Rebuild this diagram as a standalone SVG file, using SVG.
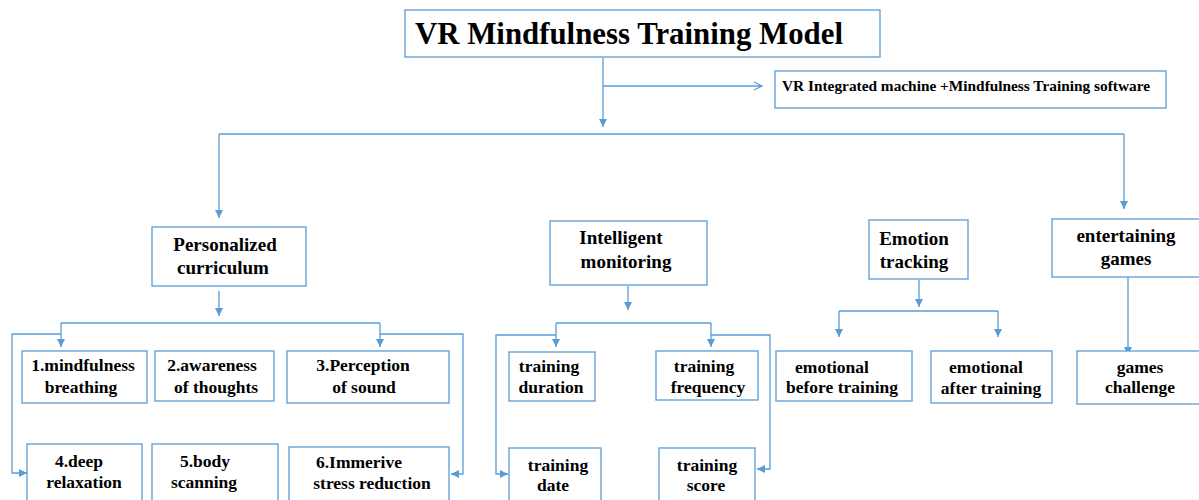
<svg xmlns="http://www.w3.org/2000/svg" width="1199" height="500" viewBox="0 0 1199 500">
<defs>
<style>
.box{fill:#fff;stroke:#5b9bd5;stroke-width:1.3}
.ln{fill:none;stroke:#5b9bd5;stroke-width:1.3}
.arr{marker-end:url(#tri)}
text{font-family:"Liberation Serif","Times New Roman",serif;font-weight:bold;fill:#000}
.h{font-size:19px;text-anchor:middle}
.s{font-size:17.5px;text-anchor:middle}
</style>
<marker id="tri" markerUnits="userSpaceOnUse" markerWidth="10" markerHeight="10" refX="8" refY="4" orient="auto">
<path d="M0,0 L8,4 L0,8 Z" fill="#5b9bd5"/>
</marker>
<marker id="open" markerUnits="userSpaceOnUse" markerWidth="12" markerHeight="12" refX="9" refY="5" orient="auto">
<path d="M1,1 L9,5 L1,9" fill="none" stroke="#5b9bd5" stroke-width="1.2"/>
</marker>
</defs>
<rect width="1199" height="500" fill="#fff"/>

<g id="connectors">
<path class="ln arr" d="M603,58 V127"/>
<path class="ln" d="M603,86 H762" marker-end="url(#open)"/>
<path class="ln" d="M219,134 H1124"/>
<path class="ln arr" d="M219,134 V218"/>
<path class="ln arr" d="M1124,134 V209"/>
<path class="ln arr" d="M219,291 V316"/>
<path class="ln" d="M61,323 H380"/>
<path class="ln arr" d="M61,323 V347"/>
<path class="ln arr" d="M380,323 V347"/>
<path class="ln arr" d="M61,334 H12 V473 H27"/>
<path class="ln arr" d="M380,334 H463 V474 H451"/>
<path class="ln arr" d="M628,286 V310"/>
<path class="ln" d="M556,323 H711"/>
<path class="ln arr" d="M556,323 V347"/>
<path class="ln arr" d="M711,323 V347"/>
<path class="ln arr" d="M556,335 H496 V474 H508"/>
<path class="ln arr" d="M711,335 H770 V469 H757"/>
<path class="ln arr" d="M919,280 V307"/>
<path class="ln" d="M839,311 H998"/>
<path class="ln arr" d="M839,311 V337"/>
<path class="ln arr" d="M998,311 V337"/>
<path class="ln arr" d="M1128,277 V355"/>
</g>

<g id="title">
<rect class="box" x="405" y="10" width="475" height="47"/>
<text x="415" y="44" font-size="31" textLength="428" lengthAdjust="spacingAndGlyphs">VR Mindfulness Training Model</text>
</g>
<g id="vr-machine">
<rect class="box" x="775" y="71" width="391" height="37"/>
<text x="782" y="91" font-size="14" textLength="368" lengthAdjust="spacingAndGlyphs">VR Integrated machine +Mindfulness Training  software</text>
</g>

<g id="personalized">
<rect class="box" x="152" y="227" width="154" height="59"/>
<text class="h" x="225" y="251">Personalized</text>
<text class="h" x="223" y="274">curriculum</text>
</g>
<g id="c1">
<rect class="box" x="22" y="351" width="125" height="52"/>
<text class="s" x="83" y="371">1.mindfulness</text>
<text class="s" x="81" y="393">breathing</text>
</g>
<g id="c2">
<rect class="box" x="155" y="351" width="119" height="50"/>
<text class="s" x="212" y="371">2.awareness</text>
<text class="s" x="216" y="393">of thoughts</text>
</g>
<g id="c3">
<rect class="box" x="287" y="351" width="162" height="52"/>
<text class="s" x="363" y="371">3.Perception</text>
<text class="s" x="364" y="393">of sound</text>
</g>
<g id="c4">
<rect class="box" x="27" y="444" width="115" height="60"/>
<text class="s" x="79" y="467">4.deep</text>
<text class="s" x="84" y="488">relaxation</text>
</g>
<g id="c5">
<rect class="box" x="152" y="444" width="126" height="60"/>
<text class="s" x="205" y="467">5.body</text>
<text class="s" x="204" y="488">scanning</text>
</g>
<g id="c6">
<rect class="box" x="289" y="447" width="160" height="60"/>
<text class="s" x="359" y="468">6.Immerive</text>
<text class="s" x="372" y="489">stress reduction</text>
</g>

<g id="monitoring">
<rect class="box" x="550" y="221" width="157" height="64"/>
<text class="h" x="621" y="244">Intelligent</text>
<text class="h" x="626" y="268">monitoring</text>
</g>
<g id="m1">
<rect class="box" x="509" y="352" width="86" height="49"/>
<text class="s" x="549" y="372">training</text>
<text class="s" x="551" y="393">duration</text>
</g>
<g id="m2">
<rect class="box" x="656" y="351" width="102" height="49"/>
<text class="s" x="704" y="372">training</text>
<text class="s" x="708" y="393">frequency</text>
</g>
<g id="m3">
<rect class="box" x="509" y="448" width="92" height="56"/>
<text class="s" x="558" y="471">training</text>
<text class="s" x="553" y="491">date</text>
</g>
<g id="m4">
<rect class="box" x="659" y="448" width="96" height="56"/>
<text class="s" x="707" y="471">training</text>
<text class="s" x="706" y="491">score</text>
</g>

<g id="emotion">
<rect class="box" x="869" y="220" width="99" height="59"/>
<text class="h" x="914" y="245">Emotion</text>
<text class="h" x="914" y="268">tracking</text>
</g>
<g id="e1">
<rect class="box" x="776" y="351" width="136" height="50"/>
<text class="s" x="832" y="373">emotional</text>
<text class="s" x="842" y="393">before training</text>
</g>
<g id="e2">
<rect class="box" x="931" y="351" width="121" height="52"/>
<text class="s" x="986" y="373">emotional</text>
<text class="s" x="991" y="394">after training</text>
</g>

<g id="games">
<rect class="box" x="1052" y="219" width="155" height="58"/>
<text class="h" x="1126" y="242">entertaining</text>
<text class="h" x="1126" y="265">games</text>
</g>
<g id="g1">
<rect class="box" x="1077" y="351" width="130" height="53"/>
<text class="s" x="1140" y="373">games</text>
<text class="s" x="1140" y="393">challenge</text>
</g>
</svg>
